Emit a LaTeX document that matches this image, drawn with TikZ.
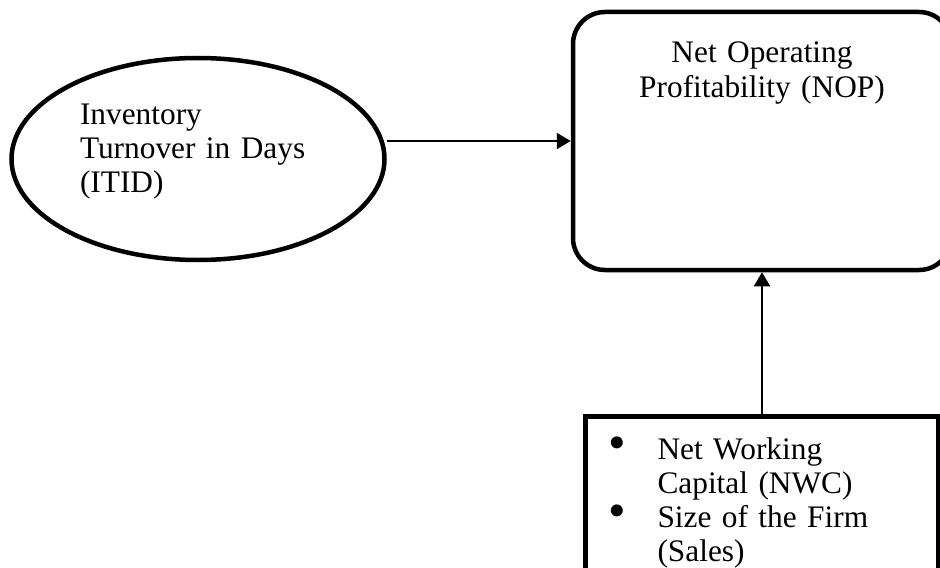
\documentclass[tikz,border=0pt]{standalone}
\usepackage{fontspec}
\setmainfont{Liberation Serif}
\usetikzlibrary{arrows.meta, positioning, shapes.geometric}

\begin{document}
\begin{tikzpicture}[
    txt/.style={font=\fontsize{22.3pt}{24.2pt}\selectfont},
    oval/.style={txt, draw, ellipse, line width=3.2pt, minimum width=9.325cm, minimum height=5.05cm, inner sep=0pt, text width=5.9cm, align=left, text depth=2.22cm},
    roundbox/.style={txt, draw, rounded corners=0.8cm, line width=3.2pt, minimum width=9.45cm, text width=8cm, align=center, text height=0.6cm, text depth=4.5cm, inner ysep=0.675cm},
    listbox/.style={txt, draw, line width=3.5pt, minimum width=8.825cm, inner xsep=0.575cm, inner ysep=0.475cm, text width=7.675cm, align=left},
    arrow/.style={-{Triangle[length=0.35cm, width=0.4cm]}, line width=1.4pt}
]
    \useasboundingbox (0,0) rectangle (23.5,-14.175);
    \clip (0,0) rectangle (23.5,-14.175);

    % Outcome
    \node[roundbox] (nop) at (19.05,-3.525) {Net Operating\\Profitability (NOP)};

    % Predictor
    \node[oval, left=4.6cm of nop, yshift=-0.45cm] (itid) {Inventory\\Turnover in Days\\(ITID)};

    % Controls
    \node[listbox, below=3.55cm of nop] (nwc) {%
        \begin{tabular}{@{}p{1.225cm}@{}l@{}}
            \scalebox{1.6}{\textbullet} & Net Working\\
                                        & Capital (NWC)\\
            \scalebox{1.6}{\textbullet} & Size of the Firm\\
                                        & (Sales)
        \end{tabular}};

    % Arrows
    \draw[arrow] (itid.east |- nop.west) -- (nop.west);
    \draw[arrow] (nwc.north) -- (nwc.north |- nop.south);
\end{tikzpicture}
\end{document}
